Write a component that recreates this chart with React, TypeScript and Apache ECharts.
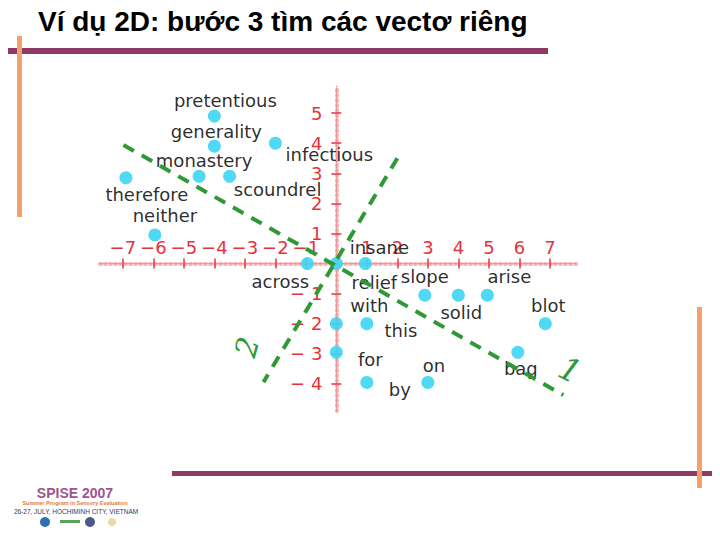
import React, { useEffect, useRef } from "react";
import * as echarts from "echarts";

// ---- data ----
const words = [
  "pretentious", "generality", "infectious", "monastery", "scoundrel",
  "therefore", "neither", "insane", "across", "relief",
  "slope", "solid", "arise", "blot", "bag",
  "with", "this", "for", "by", "on",
];
const xValues = [-4, -4, -2, -4.5, -3.5, -6.9, -5.95, 0.95, -0.95, 0, 2.9, 4, 4.95, 6.85, 5.95, 0, 1, 0, 1, 3];
const yValues = [4.9, 3.9, 4.0, 2.9, 2.9, 2.85, 0.95, 0, 0, 0, -1.05, -1.05, -1.05, -2, -2.95, -2, -2, -2.95, -3.95, -3.95];
const xTicks = [-7, -6, -5, -4, -3, -2, -1, 1, 2, 3, 4, 5, 6, 7];
const yTicks = [-4, -3, -2, -1, 1, 2, 3, 4, 5];
const eigenvector1 = [[-6.98, 3.94], [7.44, -4.37]];
const eigenvector2 = [[2.0, 3.5], [-2.39, -3.94]];

const title = "Ví dụ 2D: bước 3 tìm các vectơ riêng";

// ---- styling: label offsets (px) relative to each dot ----
const labelOffsets: Record<string, [number, number]> = {
  pretentious: [11, -16], generality: [2, -15], infectious: [54, 11],
  monastery: [5, -16], scoundrel: [48, 13], therefore: [21, 17],
  neither: [10, -19], insane: [14, -16], across: [-27, 18],
  relief: [38, 19], slope: [0, -19], solid: [3, 17], arise: [22, -19],
  blot: [3, -18], bag: [3, 16], with: [33, -18], this: [34, 7],
  for: [34, 7], by: [33, 7], on: [6, -17],
};

const RED = "#e6333b";
const GREEN = "#2f9a35";
const PURPLE = "#8e3a64";
const ORANGE = "#f5a16c";
const FONT = "'DejaVu Sans', sans-serif";

const GRID = { left: 100, top: 86, width: 477, height: 325 };
const X_RANGE = { min: -7.75, max: 7.89 };
const Y_RANGE = { min: -4.9, max: 5.9 };

const fmt = (v: number) => (v < 0 ? "\u2212" + Math.abs(v) : String(v));
const fmtY = (v: number) => (v < 0 ? "\u2212 " + Math.abs(v) : String(v));

export default function App() {
  const ref = useRef<HTMLDivElement>(null);
  useEffect(() => {
    if (!ref.current) return;
    const chart = echarts.init(ref.current, undefined, { renderer: "svg" });
    // pixel position of the zero lines inside the grid (for axis offsets)
    const x0 = GRID.left + ((0 - X_RANGE.min) / (X_RANGE.max - X_RANGE.min)) * GRID.width;
    const y0 = GRID.top + ((Y_RANGE.max - 0) / (Y_RANGE.max - Y_RANGE.min)) * GRID.height;
    const gridBottom = GRID.top + GRID.height;
    const gridRight = GRID.left + GRID.width;

    const rulerLine = { color: "#f5b3b6", width: 4, type: [1, 4] };
    const thinLine = { color: "#ef8d91", width: 1.2, type: [1.5, 1.5] };

    const scatterData = words.map((w, i) => ({
      name: w,
      value: [xValues[i], yValues[i]],
      label: { offset: labelOffsets[w] },
    }));
    chart.setOption({
      animation: false,
      backgroundColor: "#ffffff",
      grid: { ...GRID, containLabel: false },
      xAxis: [
        {
          type: "value", ...X_RANGE, position: "bottom", offset: y0 - gridBottom,
          axisLine: { onZero: false, lineStyle: rulerLine },
          axisTick: { show: true, customValues: xTicks, length: 5, lineStyle: { color: RED, width: 1.5 } },
          axisLabel: { customValues: xTicks, inside: true, margin: 7, formatter: fmt, color: RED, fontFamily: FONT, fontSize: 18 },
          splitLine: { show: false },
        },
        {
          type: "value", ...X_RANGE, position: "top", offset: GRID.top - y0,
          axisLine: { onZero: false, lineStyle: thinLine },
          axisTick: { show: true, customValues: xTicks, length: 5, lineStyle: { color: RED, width: 1.5 } },
          axisLabel: { show: false },
          splitLine: { show: false },
        },
      ],
      yAxis: [
        {
          type: "value", ...Y_RANGE, position: "left", offset: GRID.left - x0,
          axisLine: { onZero: false, lineStyle: rulerLine },
          axisTick: { show: true, customValues: yTicks, length: 5, lineStyle: { color: RED, width: 1.5 } },
          axisLabel: { customValues: yTicks, margin: 14, formatter: fmtY, color: RED, fontFamily: FONT, fontSize: 18 },
          splitLine: { show: false },
        },
        {
          type: "value", ...Y_RANGE, position: "right", offset: x0 - gridRight,
          axisLine: { onZero: false, lineStyle: thinLine },
          axisTick: { show: true, customValues: yTicks, length: 5, lineStyle: { color: RED, width: 1.5 } },
          axisLabel: { show: false },
          splitLine: { show: false },
        },
      ],
      series: [
        {
          type: "scatter",
          xAxisIndex: 0, yAxisIndex: 0,
          symbolSize: 13,
          itemStyle: { color: "#3dd5f3", opacity: 0.9 },
          label: {
            show: true, position: "inside", formatter: "{b}",
            color: "#111111", fontFamily: FONT, fontSize: 18,
            align: "center", verticalAlign: "middle",
          },
          data: scatterData,
          z: 3,
        },
        {
          type: "line", xAxisIndex: 0, yAxisIndex: 0,
          data: eigenvector1, showSymbol: false, symbol: "none",
          lineStyle: { color: GREEN, width: 4, type: [12, 9] }, z: 4,
        },
        {
          type: "line", xAxisIndex: 0, yAxisIndex: 0,
          data: eigenvector2, showSymbol: false, symbol: "none",
          lineStyle: { color: GREEN, width: 4, type: [12, 9] }, z: 4,
        },
      ],
      graphic: [
        { type: "rect", shape: { x: 8, y: 48, width: 540, height: 6 }, style: { fill: PURPLE }, z: 10 },
        { type: "rect", shape: { x: 17, y: 36, width: 5, height: 181 }, style: { fill: ORANGE }, z: 11 },
        { type: "rect", shape: { x: 172, y: 471, width: 540, height: 5 }, style: { fill: PURPLE }, z: 10 },
        { type: "rect", shape: { x: 697, y: 307, width: 5, height: 181 }, style: { fill: ORANGE }, z: 11 },
        {
          type: "text", x: 38, y: 21, z: 12,
          style: { text: title, font: "bold 28px 'Liberation Sans', Arial, sans-serif", fill: "#000", verticalAlign: "middle" },
        },
        {
          type: "text", x: 570, y: 370, rotation: -0.45, z: 12,
          style: { text: "1", font: "italic 32px 'DejaVu Serif', serif", fill: GREEN, align: "center", verticalAlign: "middle" },
        },
        {
          type: "text", x: 247, y: 347, rotation: 1.3, z: 12,
          style: { text: "2", font: "italic 30px 'DejaVu Serif', serif", fill: GREEN, align: "center", verticalAlign: "middle" },
        },
        // SPISE logo block
        {
          type: "text", x: 75, y: 493, z: 12,
          style: { text: "SPISE 2007", font: "bold 14px 'Liberation Sans', Arial, sans-serif", fill: "#9c5591", align: "center", verticalAlign: "middle" },
        },
        {
          type: "text", x: 75, y: 503, z: 12,
          style: { text: "Summer Program in Sensory Evaluation", font: "bold 5.5px 'Liberation Sans', Arial, sans-serif", fill: "#e27a3a", align: "center", verticalAlign: "middle" },
        },
        {
          type: "text", x: 76, y: 511, z: 12,
          style: { text: "26-27, JULY, HOCHIMINH CITY, VIETNAM", font: "6.5px 'Liberation Sans', Arial, sans-serif", fill: "#333a55", align: "center", verticalAlign: "middle" },
        },
        { type: "circle", shape: { cx: 45, cy: 522, r: 5 }, style: { fill: "#2f6fb7" }, z: 12 },
        { type: "rect", shape: { x: 60, y: 520, width: 20, height: 3 }, style: { fill: "#5aa55a" }, z: 12 },
        { type: "circle", shape: { cx: 90, cy: 522, r: 5 }, style: { fill: "#4a5b8a" }, z: 12 },
        { type: "circle", shape: { cx: 112, cy: 522, r: 4 }, style: { fill: "#e9d9a8" }, z: 12 },
      ],
    });
    return () => chart.dispose();
  }, []);
  return (
    <div
      ref={ref}
      style={{ position: "absolute", left: 0, top: 0, width: 720, height: 540, background: "#fff" }}
    />
  );
}
